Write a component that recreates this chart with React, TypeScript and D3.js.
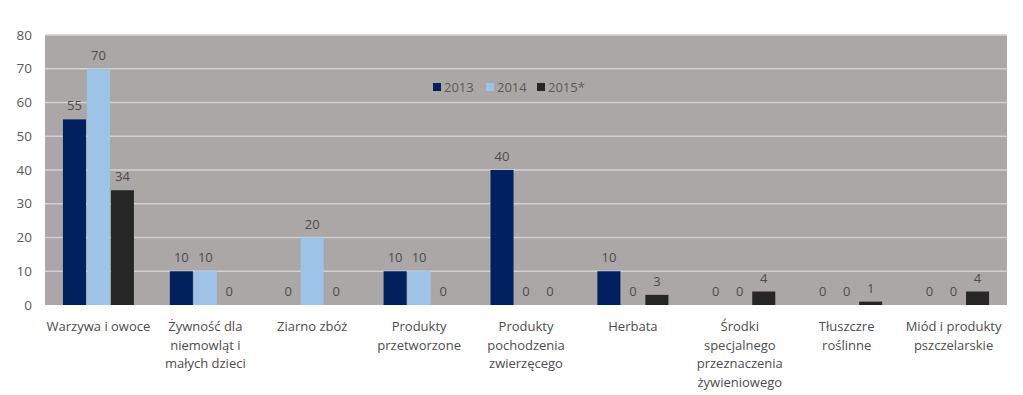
import { useEffect, useRef } from "react";
import * as d3 from "d3";

const categories = [
  ["Warzywa i owoce"],
  ["Żywność dla", "niemowląt i", "małych dzieci"],
  ["Ziarno zbóż"],
  ["Produkty", "przetworzone"],
  ["Produkty", "pochodzenia", "zwierzęcego"],
  ["Herbata"],
  ["Środki", "specjalnego", "przeznaczenia", "żywieniowego"],
  ["Tłuszczre", "roślinne"],
  ["Miód i produkty", "pszczelarskie"],
];
const years = ["2013", "2014", "2015*"];
const values2013 = [55, 10, 0, 10, 40, 10, 0, 0, 0];
const values2014 = [70, 10, 20, 10, 0, 0, 0, 0, 0];
const values2015 = [34, 0, 0, 0, 0, 3, 4, 1, 4];
const colors = ["#002060", "#9DC3E6", "#262626"];
const yTicks = [0, 10, 20, 30, 40, 50, 60, 70, 80];

const W = 1023;
const H = 395;

export default function App() {
  const ref = useRef<SVGSVGElement>(null);

  useEffect(() => {
    const svg = d3.select(ref.current);
    svg.selectAll("*").remove();

    const left = 45, right = 1007, top = 35, bottom = 305;
    const font = "'Open Sans', sans-serif";
    const series = [values2013, values2014, values2015];

    const x = d3.scaleBand<number>()
      .domain(d3.range(categories.length))
      .range([left, right]);
    const inner = d3.scaleBand<number>()
      .domain([0, 1, 2])
      .range([0, 71])
      .paddingInner(0.04);
    const y = d3.scaleLinear().domain([0, 80]).range([bottom, top]);

    svg.append("rect")
      .attr("x", left).attr("y", top)
      .attr("width", right - left).attr("height", bottom - top)
      .attr("fill", "#ABA7A6");

    svg.selectAll(".grid")
      .data(yTicks.slice(1))
      .join("line")
      .attr("x1", left).attr("x2", right)
      .attr("y1", d => y(d)).attr("y2", d => y(d))
      .attr("stroke", "#D3D0CF").attr("stroke-width", 1.3);

    svg.selectAll(".ytick")
      .data(yTicks)
      .join("text")
      .attr("x", 32).attr("y", d => y(d))
      .attr("dy", "0.35em")
      .attr("text-anchor", "end")
      .attr("font-family", font).attr("font-size", 13.5)
      .attr("fill", "#595959")
      .text(d => d);

    series.forEach((vals, si) => {
      const g = svg.append("g");
      const bx = (i: number) => x(i)! + (x.bandwidth() - 71) / 2 + inner(si)!;
      g.selectAll("rect")
        .data(vals)
        .join("rect")
        .attr("x", (_, i) => bx(i))
        .attr("y", d => y(d))
        .attr("width", inner.bandwidth())
        .attr("height", d => y(0) - y(d))
        .attr("fill", colors[si]);
      g.selectAll("text")
        .data(vals)
        .join("text")
        .attr("x", (_, i) => bx(i) + inner.bandwidth() / 2)
        .attr("y", d => y(d) - 9)
        .attr("text-anchor", "middle")
        .attr("font-family", font).attr("font-size", 13)
        .attr("fill", "#4D4D4D")
        .text(d => d);
    });

    categories.forEach((lines, i) => {
      const t = svg.append("text")
        .attr("text-anchor", "middle")
        .attr("font-family", font).attr("font-size", 13)
        .attr("fill", "#4D4D4D");
      lines.forEach((ln, j) => {
        t.append("tspan")
          .attr("x", x(i)! + x.bandwidth() / 2)
          .attr("y", 331 + j * 18.5)
          .text(ln);
      });
    });

    const legendX = [433, 486, 537];
    years.forEach((yr, i) => {
      svg.append("rect")
        .attr("x", legendX[i]).attr("y", 83)
        .attr("width", 8).attr("height", 8)
        .attr("fill", colors[i]);
      svg.append("text")
        .attr("x", legendX[i] + 11).attr("y", 87)
        .attr("dy", "0.35em")
        .attr("font-family", font).attr("font-size", 13)
        .attr("fill", "#595959")
        .text(yr);
    });
  }, []);

  return (
    <svg
      ref={ref}
      width={W}
      height={H}
      style={{ position: "absolute", left: 0, top: 0, background: "#fff" }}
    />
  );
}
